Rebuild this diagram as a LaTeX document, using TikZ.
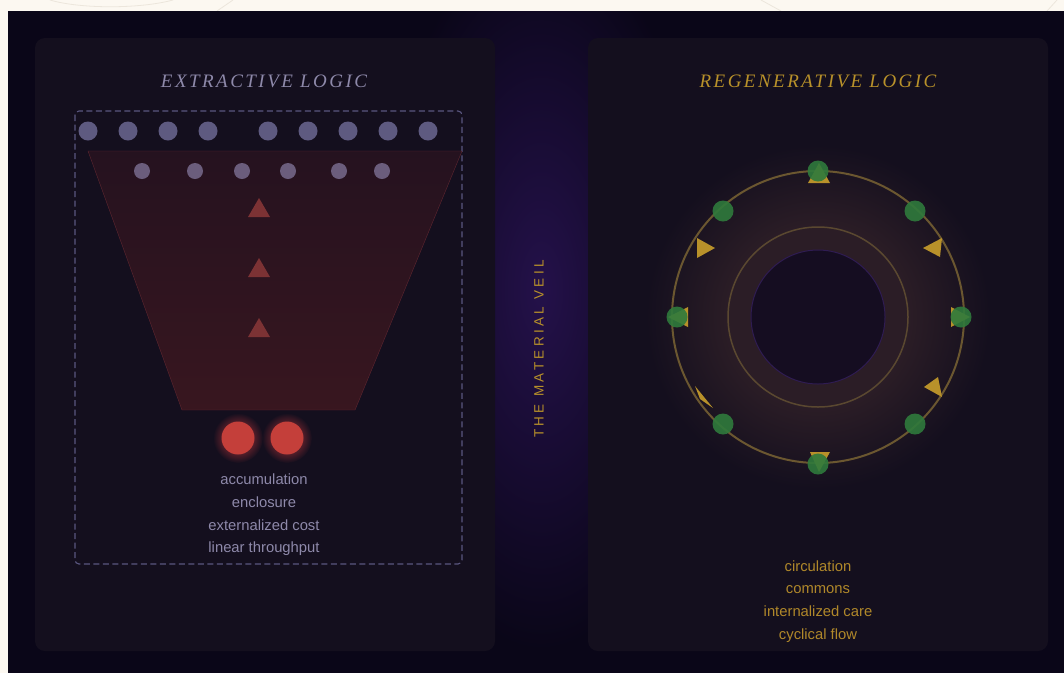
\documentclass[tikz,border=0pt]{standalone}
\usepackage{fontspec}
\setmainfont{Liberation Serif}
\setsansfont{Liberation Sans}
\usepackage{tikz}

\definecolor{cream}{HTML}{FCF8F1}
\definecolor{creamline}{HTML}{ECE6DC}
\definecolor{night}{HTML}{0A0618}
\definecolor{veilglow}{HTML}{24114A}
\definecolor{panel}{HTML}{140F1E}
\definecolor{lavender}{HTML}{8E89AA}
\definecolor{dotA}{HTML}{5E5A80}
\definecolor{dotB}{HTML}{6B5D7C}
\definecolor{dashc}{HTML}{5A5680}
\definecolor{funneltop}{HTML}{25121F}
\definecolor{funnelbot}{HTML}{38161F}
\definecolor{funnelline}{HTML}{5E2630}
\definecolor{rust}{HTML}{7C3234}
\definecolor{ember}{HTML}{C43F3A}
\definecolor{emberglow}{HTML}{5A1F2A}
\definecolor{gold}{HTML}{B8912A}
\definecolor{goldtext}{HTML}{B0882A}
\definecolor{ringc}{HTML}{6B5730}
\definecolor{ringmid}{HTML}{5A4830}
\definecolor{ringglow}{HTML}{2B1D26}
\definecolor{core}{HTML}{150D21}
\definecolor{coreline}{HTML}{2F1C52}
\definecolor{leaf}{HTML}{2F7A3C}

\pgfdeclareradialshading{ringhalo}{\pgfpoint{0bp}{0bp}}{color(0bp)=(panel); color(9.5bp)=(ringglow); color(13bp)=(ringglow); color(25bp)=(panel)}
\pgfdeclareradialshading{emberhalo}{\pgfpoint{0bp}{0bp}}{color(0bp)=(emberglow); color(15bp)=(emberglow); color(25bp)=(panel)}
\pgfdeclareradialshading{veilhalo}{\pgfpoint{0bp}{0bp}}{color(0bp)=(veilglow); color(25bp)=(night)}

\begin{document}
\begin{tikzpicture}[line cap=round,line join=round,x=1pt,y=-1pt,
	lbl/.style={font=\fontsize{14.8}{16}\sffamily,inner sep=0pt,anchor=base},
	ttl/.style={font=\fontsize{19}{22}\itshape\addfontfeatures{LetterSpace=13},inner sep=0pt},
	panelbox/.style={fill=panel,rounded corners=10pt},
	leafdot/.style={fill=leaf,fill opacity=0.9},
	faint/.style={draw=creamline,line width=0.8pt}]
	\useasboundingbox (0,0) rectangle (1064,673);
	\fill[cream] (0,0) rectangle (1064,673);
	\draw[faint] (50,0) .. controls (80,9) and (140,9) .. (173,0);
	\draw[faint] (217,11) -- (233,0);
	\draw[faint] (761,0) -- (781,11);
	\draw[faint] (1047,11) -- (1057,0);
	\fill[night] (8,11) rectangle (1064,673);
	\begin{scope}
	\clip (8,11) rectangle (1064,660);
	\shade[shading=veilhalo] (541,290) ellipse (160 and 360);
	\end{scope}

	% panels
	\fill[panelbox] (35,38) rectangle (495,651);
	\fill[panelbox] (588,38) rectangle (1048,651);

	% extractive side
	\node[ttl,text=lavender] (titleL) at (264,81) {EXTRACTIVE LOGIC};
	\draw[dashc,line width=1.1pt,dash pattern=on 6pt off 3.5pt,rounded corners=4pt,line cap=butt] (75,111) rectangle (462,564);
	\foreach \x in {88,128,168,208,268,308,348,388,428}
	\fill[dotA] (\x,131) circle (9.5);
	\shade[top color=funneltop,bottom color=funnelbot,draw=funnelline] (88,151) -- (462,151) -- (355,410) -- (182,410) -- cycle;
	\foreach \x in {142,195,242,288,339,382}
	\fill[dotB] (\x,171) circle (8);
	\foreach \y in {198,258,318}
	\fill[rust] (259,\y) -- (270,\y+19) -- (248,\y+19) -- cycle;
	\foreach \x in {238,287} {
	\shade[shading=emberhalo] (\x,438) circle (25);
	\fill[ember] (\x,438) circle (16.5);
	}
	\node[lbl,text=lavender] (acc) at (264,484) {accumulation};
	\node[lbl,text=lavender] (encl) at (264,507) {enclosure};
	\node[lbl,text=lavender] (ext) at (264,530) {externalized cost};
	\node[lbl,text=lavender] (lin) at (264,552) {linear throughput};

	% the veil
	\node[font=\fontsize{13.5}{15}\sffamily\addfontfeatures{LetterSpace=25},text=gold,rotate=90,inner sep=0pt] (veil) at (539,349) {THE MATERIAL VEIL};

	% regenerative side
	\node[ttl,text=gold] (titleR) at (818,81) {REGENERATIVE LOGIC};
	\shade[shading=ringhalo] (818,317) circle (172);
	\draw[ringc,line width=2pt] (818,317) circle (146);
	\draw[ringmid,line width=1.5pt] (818,317) circle (90);
	\filldraw[fill=core,draw=coreline,line width=1pt] (818,317) circle (67);
	% arrow marks
	\fill[gold] (808,183) -- (830,183) -- (819,163) -- cycle;
	\fill[gold] (810,452) -- (830,452) -- (819,472) -- cycle;
	\fill[gold] (688,307) -- (688,327) -- (668,317) -- cycle;
	\fill[gold] (951,307) -- (951,327) -- (970,317) -- cycle;
	\fill[gold] (697,238) -- (697,258) -- (715,248) -- cycle;
	\fill[gold] (942,238) -- (940,257) -- (923,248) -- cycle;
	\fill[gold] (942,397) -- (938,377) -- (924,387) -- cycle;
	\fill[gold] (695,386) -- (713,408) -- (700,399) -- cycle;
	\foreach \p in {(818,171),(723,211),(915,211),(677,317),(961,317),(723,424),(915,424),(818,464)}
	\fill[leafdot] \p circle (10.5);
	\node[lbl,text=goldtext] (circ) at (818,571) {circulation};
	\node[lbl,text=goldtext] (comm) at (818,593) {commons};
	\node[lbl,text=goldtext] (care) at (818,616) {internalized care};
	\node[lbl,text=goldtext] (flow) at (818,639) {cyclical flow};
\end{tikzpicture}
\end{document}
